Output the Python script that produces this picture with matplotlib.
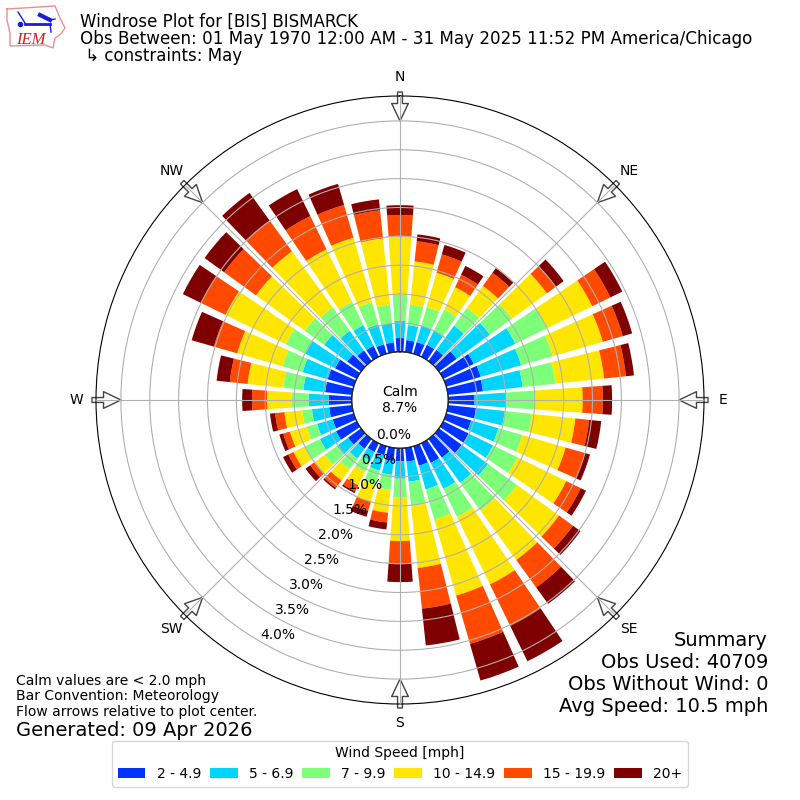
import numpy as np
import matplotlib
matplotlib.use("Agg")
import matplotlib.pyplot as plt
from matplotlib.lines import Line2D

directions = list(range(0, 360, 10))
speed_labels = ["2 - 4.9", "5 - 6.9", "7 - 9.9", "10 - 14.9", "15 - 19.9", "20+"]
colors = ["#0033ff", "#00d5ff", "#7dff7a", "#ffe600", "#ff4a00", "#7f0000"]

s2_5 = [.24,.21,.21,.23,.24,.38,.59,.62,.61,.45,.49,.45,.49,.49,.40,.38,.35,.24,.23,.23,.16,.17,.21,.28,.40,.38,.40,.40,.47,.47,.42,.30,.23,.21,.17,.17]
s5_7 = [.30,.26,.30,.28,.52,.71,.80,.73,.69,.56,.50,.49,.47,.56,.54,.50,.43,.35,.30,.24,.28,.17,.21,.24,.31,.28,.30,.35,.38,.45,.57,.49,.42,.40,.36,.33]
s7_10 = [.45,.36,.33,.40,.38,.47,.61,.57,.57,.50,.47,.43,.47,.62,.59,.54,.54,.42,.33,.26,.26,.21,.23,.26,.30,.19,.17,.30,.35,.36,.38,.42,.50,.45,.40,.33]
s10_15 = [1.02,.75,.62,.43,.47,.75,.87,.90,.85,.82,.76,.78,.94,.90,1.06,1.30,1.37,1.08,.75,.40,.30,.26,.24,.21,.21,.30,.31,.42,.62,.82,1.16,1.04,1.20,1.01,1.16,1.15]
s15_20 = [.36,.35,.33,.24,.28,.19,.35,.36,.38,.35,.24,.35,.28,.30,.59,.80,.87,.71,.40,.17,.17,.12,.16,.10,.10,.12,.16,.26,.31,.42,.47,.68,.66,.64,.59,.49]
s20p = [.17,.12,.17,.17,.10,.17,.23,.17,.14,.16,.21,.09,.10,.16,.35,.68,.66,.64,.31,.12,.10,.03,.03,.10,.10,.07,.09,.17,.23,.40,.35,.42,.59,.52,.38,.19]
series = [s2_5, s5_7, s7_10, s10_15, s15_20, s20p]

rticks = [0, .5, 1, 1.5, 2, 2.5, 3, 3.5, 4]
compass = ["N", "NE", "E", "SE", "S", "SW", "W", "NW"]
summary_lines = ["Summary", "Obs Used: 40709", "Obs Without Wind: 0", "Avg Speed: 10.5 mph"]

fig = plt.figure(figsize=(8, 8), dpi=100)
ax = fig.add_axes([0.12, 0.12, 0.76, 0.76], projection="polar")
ax.set_theta_zero_location("N")
ax.set_theta_direction(-1)
theta = np.deg2rad(directions)
bottom = np.zeros(len(directions))
for vals, col, lab in zip(series, colors, speed_labels):
    ax.bar(theta, vals, width=np.deg2rad(8), bottom=bottom, color=col, label=lab, linewidth=0)
    bottom += np.array(vals)

ax.set_rorigin(-0.833)
ax.set_rmin(0)
ax.set_rmax(4.44)
ax.set_axisbelow(False)
ax.set_rgrids(rticks, [f"{r:.1f}%" for r in rticks], angle=210, fontsize=10)
for t in ax.yaxis.get_ticklabels():
    t.set_ha("left")
    t.set_va("bottom")
ax.set_thetagrids(np.arange(0, 360, 45), compass, fontsize=10)
ax.grid(True, color="#b0b0b0", lw=0.8)
ax.plot(np.linspace(0, 2*np.pi, 200), np.zeros(200), color="k", lw=1, zorder=6)

for a in np.arange(0, 360, 45):
    ax.annotate("", xy=(np.deg2rad(a), 4.0), xytext=(np.deg2rad(a), 4.5),
                arrowprops=dict(facecolor="white", edgecolor="#444444", width=3.5,
                                headwidth=12, headlength=12.5, lw=1, shrink=0, zorder=2),
                annotation_clip=False, zorder=2)

fig.text(0.5, 0.5005, "Calm\n8.7%", ha="center", va="center", fontsize=10)

fig.text(0.1, 0.973, "Windrose Plot for [BIS] BISMARCK", fontsize=12, va="center")
fig.text(0.1, 0.9515, "Obs Between: 01 May 1970 12:00 AM - 31 May 2025 11:52 PM America/Chicago", fontsize=12.02, va="center")
fig.text(0.1, 0.930, " ↳ constraints: May", fontsize=12, va="center")

for i, line in enumerate(summary_lines):
    fig.text(0.96, 1 - (640 + 22*i)/800, line, ha="right", va="center", fontsize=14)
fig.text(0.02, 0.1012, "Calm values are < 2.0 mph\nBar Convention: Meteorology\nFlow arrows relative to plot center.",
         ha="left", va="bottom", fontsize=10, linespacing=1.15)
fig.text(0.02, 0.0875, "Generated: 09 Apr 2026", ha="left", va="center", fontsize=14)

h, l = ax.get_legend_handles_labels()
fig.legend(h, l, title="Wind Speed [mph]", ncol=6, loc="lower center",
           bbox_to_anchor=(0.5, 0.008), fontsize=10, title_fontsize=10,
           columnspacing=0.64)

# IEM logo
def px(x, y):
    return x/800, 1-y/800
outline = [(7,9),(55,6),(60,18),(65,28),(60,35),(55,38),(53,48),(45,45),(10,46),(10,33),(7,20),(7,9)]
fig.add_artist(Line2D(*zip(*[px(*p) for p in outline]), color="#e89090", lw=1))
for seg, lw in [([(25,24),(50,24)],2), ([(18,12),(25,23)],1), ([(40,15),(50,20)],3),
                ([(50,20),(55,19)],1), ([(50,24),(51,32)],1)]:
    fig.add_artist(Line2D(*zip(*[px(*p) for p in seg]), color="#1a1ae0", lw=lw))
fig.add_artist(Line2D(*zip(px(20,24)), marker="o", ms=3, color="#1a1ae0"))
fig.text(*px(16,44), "IEM", fontsize=12, style="italic", family="Liberation Serif", color="#cc2222", va="baseline")

fig.savefig("out.png", dpi=100)
